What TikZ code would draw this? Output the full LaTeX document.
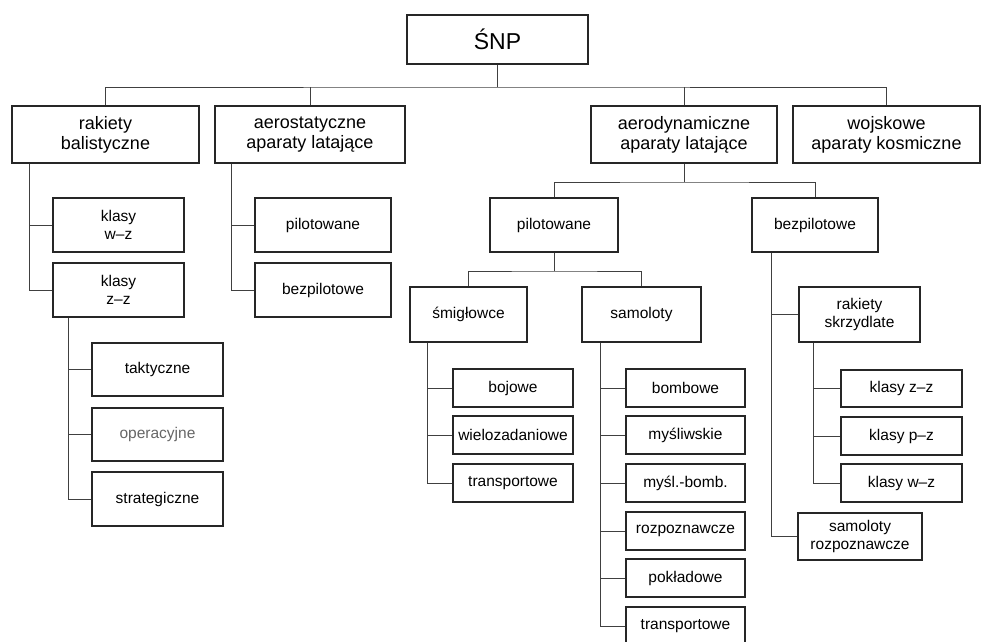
\documentclass[tikz,border=0pt]{standalone}
\usepackage{fontspec}
\setmainfont{Liberation Sans}
\begin{document}
\begin{tikzpicture}[x=1pt,y=-1pt,
  box/.style={draw=black!85, line width=1.2pt, fill=white, inner sep=0pt, align=center, text=black, font=\fontsize{15.5}{18.5}\selectfont},
  bigbox/.style={box, font=\fontsize{18}{20}\selectfont},
  link/.style={draw=black!75, line width=0.9pt}]
\useasboundingbox (0,0) rectangle (982,642);
\clip (0,0) rectangle (982,642);

% level 0
\node[box, minimum width=181pt, minimum height=49pt, font=\fontsize{23}{26}\selectfont] (snp) at (497.5,39.5) {ŚNP};

% level 1
\node[bigbox, minimum width=187pt, minimum height=57pt] (rb)  at (105.5,134.5) {rakiety\\balistyczne};
\node[bigbox, minimum width=190pt, minimum height=57pt] (aes) at (310,134.5) {aerostatyczne\\aparaty latające};
\node[bigbox, minimum width=186pt, minimum height=57pt] (aed) at (684,134.5) {aerodynamiczne\\aparaty latające};
\node[bigbox, minimum width=187pt, minimum height=57pt] (woj) at (886.5,134.5) {wojskowe\\aparaty kosmiczne};

% rakiety balistyczne
\node[box, minimum width=131pt, minimum height=54pt] (kwz) at (118.5,225) {klasy\\w–z};
\node[box, minimum width=131pt, minimum height=54pt] (kzz) at (118.5,290) {klasy\\z–z};
\node[box, minimum width=131pt, minimum height=53pt] (tak) at (157.5,369.5) {taktyczne};
\node[box, minimum width=131pt, minimum height=53pt, text=black!60] (ope) at (157.5,434.5) {operacyjne};
\node[box, minimum width=131pt, minimum height=54pt] (str) at (157.5,499) {strategiczne};

% aerostatyczne
\node[box, minimum width=136pt, minimum height=54pt] (aep) at (323,225) {pilotowane};
\node[box, minimum width=136pt, minimum height=54pt] (aeb) at (323,290) {bezpilotowe};

% aerodynamiczne
\node[box, minimum width=128pt, minimum height=54pt] (pil) at (554,225) {pilotowane};
\node[box, minimum width=126pt, minimum height=54pt] (bez) at (815,225) {bezpilotowe};

\node[box, minimum width=117pt, minimum height=55pt] (smi) at (468.5,314.5) {śmigłowce};
\node[box, minimum width=119pt, minimum height=55pt] (sam) at (641.5,314.5) {samoloty};

\node[box, minimum width=120pt, minimum height=38pt] (boj) at (513,388) {bojowe};
\node[box, minimum width=120pt, minimum height=38pt] (wie) at (513,435) {wielozadaniowe};
\node[box, minimum width=120pt, minimum height=38pt] (trh) at (513,483) {transportowe};

\node[box, minimum width=119pt, minimum height=38pt] (bom) at (685.5,388) {bombowe};
\node[box, minimum width=119pt, minimum height=38pt] (mys) at (685.5,435) {myśliwskie};
\node[box, minimum width=119pt, minimum height=38pt] (mb)  at (685.5,483) {myśl.-bomb.};
\node[box, minimum width=119pt, minimum height=38pt] (roz) at (685.5,531) {rozpoznawcze};
\node[box, minimum width=119pt, minimum height=38pt] (pok) at (685.5,578) {pokładowe};
\node[box, minimum width=119pt, minimum height=38pt] (trs) at (685.5,626) {transportowe};

\node[box, minimum width=121pt, minimum height=55pt] (rs) at (859.5,314.5) {rakiety\\skrzydlate};
\node[box, minimum width=121pt, minimum height=37pt] (kz) at (901.5,388.5) {klasy z–z};
\node[box, minimum width=121pt, minimum height=38pt] (kp) at (901.5,436) {klasy p–z};
\node[box, minimum width=121pt, minimum height=38pt] (kw) at (901.5,483) {klasy w–z};
\node[box, minimum width=124pt, minimum height=47pt] (sr) at (860,536.5) {samoloty\\rozpoznawcze};

% connectors: top bus
\coordinate (bus0) at (497.5,87);
\draw[link] (snp.south) -- (bus0);
\draw[link] (rb.north) |- (bus0) -| (woj.north);
\draw[link] (aes.north) -- (aes.north |- bus0);
\draw[link] (aed.north) -- (aed.north |- bus0);

% rakiety balistyczne tree
\draw[link] ([xshift=18pt]rb.south west) |- (kwz.west);
\draw[link] ([xshift=18pt]rb.south west) |- (kzz.west);
\draw[link] ([xshift=16pt]kzz.south west) |- (tak.west);
\draw[link] ([xshift=16pt]kzz.south west) |- (ope.west);
\draw[link] ([xshift=16pt]kzz.south west) |- (str.west);

% aerostatyczne tree
\draw[link] ([xshift=17pt]aes.south west) |- (aep.west);
\draw[link] ([xshift=17pt]aes.south west) |- (aeb.west);

% aerodynamiczne bus
\coordinate (bus1) at (684,182);
\draw[link] (aed.south) -- (bus1);
\draw[link] (pil.north) |- (bus1) -| (bez.north);

% pilotowane bus
\coordinate (bus2) at (554,271);
\draw[link] (pil.south) -- (bus2);
\draw[link] (smi.north) |- (bus2) -| (sam.north);

% smiglowce tree
\draw[link] ([xshift=18pt]smi.south west) |- (boj.west);
\draw[link] ([xshift=18pt]smi.south west) |- (wie.west);
\draw[link] ([xshift=18pt]smi.south west) |- (trh.west);

% samoloty tree
\foreach \c in {bom,mys,mb,roz,pok,trs}
  \draw[link] ([xshift=19pt]sam.south west) |- (\c.west);

% bezpilotowe tree
\draw[link] ([xshift=20pt]bez.south west) |- (rs.west);
\draw[link] ([xshift=20pt]bez.south west) |- (sr.west);

% rakiety skrzydlate tree
\foreach \c in {kz,kp,kw}
  \draw[link] ([xshift=15pt]rs.south west) |- (\c.west);
\end{tikzpicture}
\end{document}
